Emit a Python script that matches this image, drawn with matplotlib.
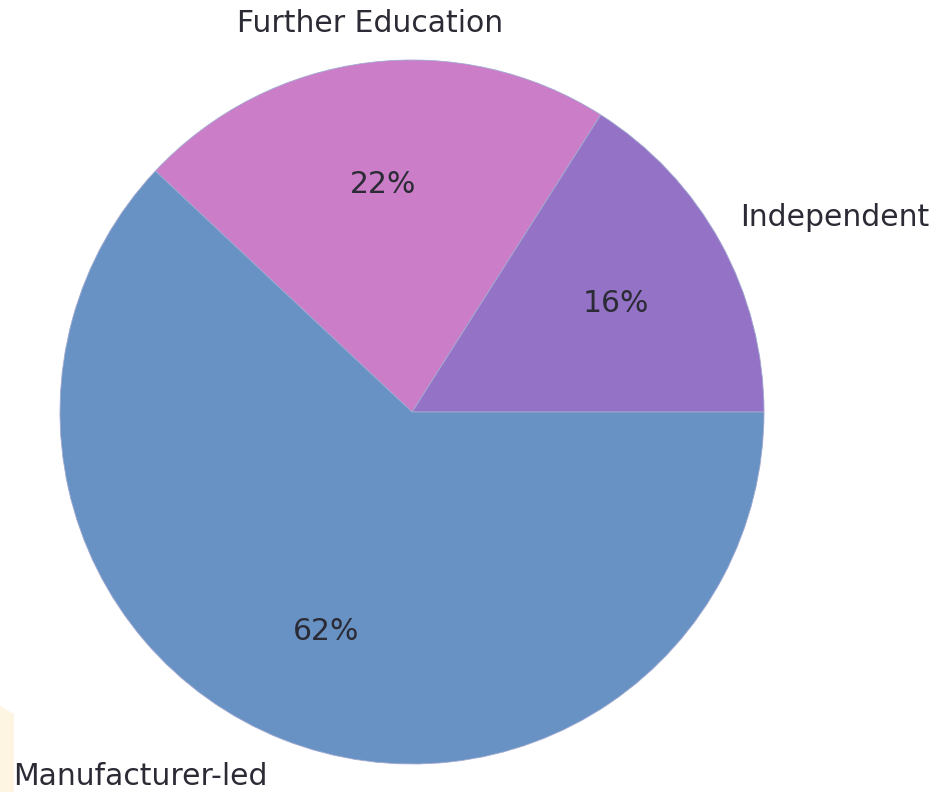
import numpy as np
import matplotlib.pyplot as plt
from matplotlib.patches import Polygon

labels = ['Independent', 'Further Education', 'Manufacturer-led']
shares = [16, 22, 62]
colors = ['#9473c6', '#cc7dc8', '#6892c4']

W, H, dpi = 937, 792, 100
fig = plt.figure(figsize=(W / dpi, H / dpi), dpi=dpi)
ax = fig.add_axes([0, 0, 1, 1])

# pie centred at (412, 412) px with a 352 px radius
r_px, cx, cy = 352, 412, 412

wedges, texts, autotexts = ax.pie(
    shares, labels=labels, colors=colors, startangle=0, counterclock=True,
    autopct='%d%%', pctdistance=0.66, labeldistance=1.1,
    textprops={'fontsize': 21.5, 'color': '#2b2b35', 'family': 'DejaVu Sans'},
    wedgeprops={'linewidth': 0.6, 'edgecolor': '#a0a8d0'},
    frame=True,
)
ax.set_xlim(-cx / r_px, (W - cx) / r_px)
ax.set_ylim(-(H - cy) / r_px, cy / r_px)
ax.set_aspect('equal')
ax.axis('off')

for t in autotexts:
    t.set_va('center_baseline')

# outer labels: distance from centre and alignment per slice
label_dist = [1.064, 1.07, 1.115]
label_align = [('left', 'bottom'), ('center', 'bottom'), ('right', 'center')]
for w, t, d, (ha, va) in zip(wedges, texts, label_dist, label_align):
    mid = np.deg2rad((w.theta1 + w.theta2) / 2)
    t.set_position((d * np.cos(mid), d * np.sin(mid)))
    t.set_ha(ha)
    t.set_va(va)
texts[1].set_x(texts[1].get_position()[0] + 0.015)

# faint cream strip along the lower-left edge
strip = Polygon([(0, 0), (14 / W, 0), (14 / W, 78 / H), (0, 86 / H)],
                closed=True, transform=fig.transFigure, facecolor='#fef4e2',
                edgecolor='none', zorder=0)
fig.patches.append(strip)

fig.savefig('out.png', dpi=dpi, facecolor='white')
